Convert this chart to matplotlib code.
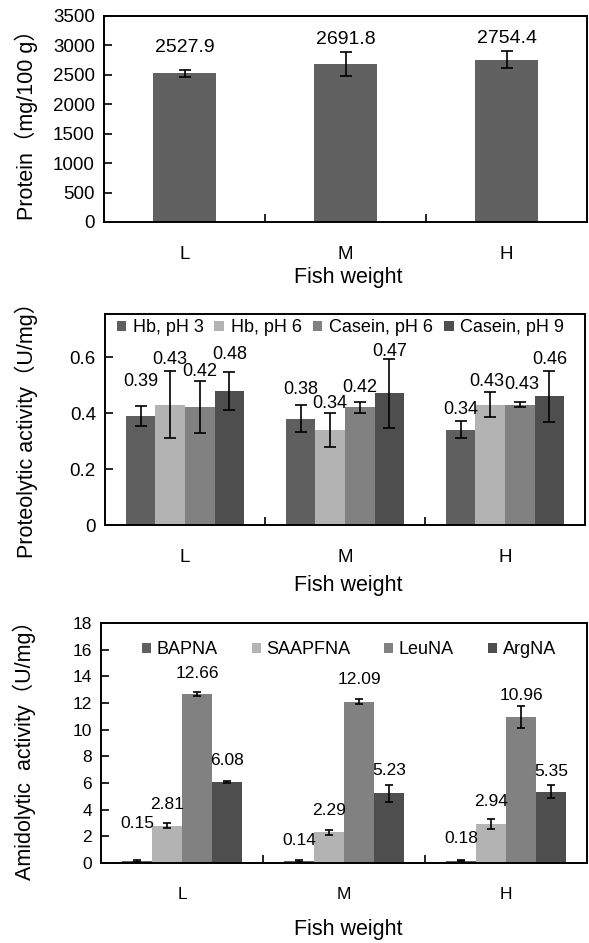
import matplotlib
matplotlib.use('Agg')
import matplotlib.pyplot as plt
import numpy as np
from matplotlib.patches import Patch

plt.rcParams['font.family'] = ['Liberation Sans', 'Noto Sans CJK SC', 'DejaVu Sans']

# ---------------- data ----------------
categories = ['L', 'M', 'H']

protein = [2527.9, 2691.8, 2754.4]
protein_err = [60, 204, 144]

prot_series = ['Hb, pH 3', 'Hb, pH 6', 'Casein, pH 6', 'Casein, pH 9']
hb_ph3 = [0.39, 0.38, 0.34]
hb_ph6 = [0.43, 0.34, 0.43]
casein_ph6 = [0.42, 0.42, 0.43]
casein_ph9 = [0.48, 0.47, 0.46]
hb_ph3_err = [0.037, 0.048, 0.030]
hb_ph6_err = [0.120, 0.060, 0.045]
casein_ph6_err = [0.093, 0.021, 0.010]
casein_ph9_err = [0.068, 0.122, 0.092]

amid_series = ['BAPNA', 'SAAPFNA', 'LeuNA', 'ArgNA']
bapna = [0.15, 0.14, 0.18]
saapfna = [2.81, 2.29, 2.94]
leuna = [12.66, 12.09, 10.96]
argna = [6.08, 5.23, 5.35]
bapna_err = [0.05, 0.05, 0.05]
saapfna_err = [0.21, 0.21, 0.37]
leuna_err = [0.16, 0.18, 0.82]
argna_err = [0.09, 0.63, 0.50]

# ---------------- layout / style ----------------
W, H = 589, 943
DPI = 100
PX2PT = 72.0 / DPI

protein_label_off = [26, 24, 21]                       # px above bar top
prot_label_off = [[34, 45, 36, 36], [29, 26, 20, 42], [20, 23, 20, 37]]
prot_label_dx = [[0, 0, 0, 0], [0, 0, 0, 0], [0, -3, 2, 0]]
amid_label_off = [[38, 21, 21, 21], [21, 22, 22, 23], [22, 22, 21, 20]]

four_colors = ['#5f5f5f', '#b3b3b3', '#818181', '#4e4e4e']
one_color = '#616161'
spine_lw = 1.4

fig = plt.figure(figsize=(W / DPI, H / DPI), dpi=DPI)


def add_axes_px(left, right, top, bottom):
    return fig.add_axes([left / W, 1 - bottom / H, (right - left) / W, (bottom - top) / H])


def style_axes(ax, tick_fs, xpad):
    for s in ax.spines.values():
        s.set_linewidth(spine_lw)
        s.set_color('black')
    ax.set_xlim(-0.5, 2.5)
    ax.set_xticks([0.5, 1.5])
    ax.set_xticklabels([])
    ax.set_xticks([0, 1, 2], minor=True)
    ax.set_xticklabels(categories, minor=True, fontsize=tick_fs)
    ax.tick_params(axis='x', which='major', direction='in', length=6, width=1.2)
    ax.tick_params(axis='x', which='minor', length=0, pad=xpad)
    ax.tick_params(axis='y', direction='in', length=6, width=1.2, pad=6.5, labelsize=tick_fs)


x = np.arange(len(categories))

# ---------------- panel 1 ----------------
ax1 = add_axes_px(104, 587, 16, 222)
ax1.bar(x, protein, width=0.39, color=one_color, zorder=2)
ax1.errorbar(x, protein, yerr=protein_err, fmt='none', ecolor='black',
             elinewidth=1.2, capsize=4, capthick=1.2, zorder=3)
for i, v in enumerate(protein):
    ax1.annotate(f'{v:.1f}', xy=(x[i], v), xytext=(0, protein_label_off[i] * PX2PT),
                 textcoords='offset points', ha='center', va='center', fontsize=14)
ax1.set_ylim(0, 3500)
ax1.set_yticks(np.arange(0, 3501, 500))
style_axes(ax1, 13.5, 17)

# ---------------- panel 2 ----------------
ax2 = add_axes_px(105, 585, 314, 525)
w = 0.185
prot_vals = [hb_ph3, hb_ph6, casein_ph6, casein_ph9]
prot_errs = [hb_ph3_err, hb_ph6_err, casein_ph6_err, casein_ph9_err]
for k in range(4):
    xs = x + (k - 1.5) * w
    ax2.bar(xs, prot_vals[k], width=w, color=four_colors[k], zorder=2, label=prot_series[k])
    ax2.errorbar(xs, prot_vals[k], yerr=prot_errs[k], fmt='none', ecolor='black',
                 elinewidth=1.2, capsize=4, capthick=1.2, zorder=3)
    for i, v in enumerate(prot_vals[k]):
        ax2.annotate(f'{v:.2f}', xy=(xs[i], v),
                     xytext=(prot_label_dx[i][k] * PX2PT, prot_label_off[i][k] * PX2PT),
                     textcoords='offset points', ha='center', va='center', fontsize=13, zorder=4)
ax2.set_ylim(0, 0.754)
ax2.set_yticks([0, 0.2, 0.4, 0.6])
ax2.set_yticklabels(['0', '0.2', '0.4', '0.6'])
style_axes(ax2, 13.5, 17)
handles = [Patch(facecolor=c, edgecolor='none') for c in four_colors]
ax2.legend(handles, prot_series, loc='center', bbox_to_anchor=(0.49, 0.934), ncol=4,
           frameon=False, fontsize=13, handlelength=0.55, handleheight=0.55,
           handletextpad=0.35, columnspacing=0.6, borderpad=0, borderaxespad=0)

# ---------------- panel 3 ----------------
ax3 = add_axes_px(101, 587, 623, 863)
amid_vals = [bapna, saapfna, leuna, argna]
amid_errs = [bapna_err, saapfna_err, leuna_err, argna_err]
for k in range(4):
    xs = x + (k - 1.5) * w
    ax3.bar(xs, amid_vals[k], width=w, color=four_colors[k], zorder=2)
    ax3.errorbar(xs, amid_vals[k], yerr=amid_errs[k], fmt='none', ecolor='black',
                 elinewidth=1.2, capsize=3, capthick=1.2, zorder=3)
    for i, v in enumerate(amid_vals[k]):
        ax3.annotate(f'{v:.2f}', xy=(xs[i], v), xytext=(0, amid_label_off[i][k] * PX2PT),
                     textcoords='offset points', ha='center', va='center', fontsize=12.5, zorder=4)
ax3.set_ylim(0, 18)
ax3.set_yticks(np.arange(0, 19, 2))
style_axes(ax3, 12.5, 17)
ax3.legend(handles, amid_series, loc='center', bbox_to_anchor=(0.51, 0.8875), ncol=4,
           frameon=False, fontsize=13, handlelength=0.5, handleheight=0.5,
           handletextpad=0.3, columnspacing=1.9, borderpad=0, borderaxespad=0)

# ---------------- axis titles ----------------
lab_fs = 15.5
fig.text(348 / W, 1 - 278 / H, 'Fish weight', ha='center', va='center', fontsize=lab_fs)
fig.text(348 / W, 1 - 585 / H, 'Fish weight', ha='center', va='center', fontsize=lab_fs)
fig.text(348 / W, 1 - 930 / H, 'Fish weight', ha='center', va='center', fontsize=lab_fs)
fig.text(26 / W, 1 - 120 / H, 'Protein（mg/100 g）', rotation=90, ha='center', va='center', fontsize=lab_fs)
fig.text(26 / W, 1 - 425 / H, 'Proteolytic activity（U/mg）', rotation=90, ha='center', va='center', fontsize=lab_fs)
fig.text(24 / W, 1 - 745 / H, 'Amidolytic  activity（U/mg）', rotation=90, ha='center', va='center', fontsize=lab_fs)

fig.savefig('out.png', dpi=DPI)
